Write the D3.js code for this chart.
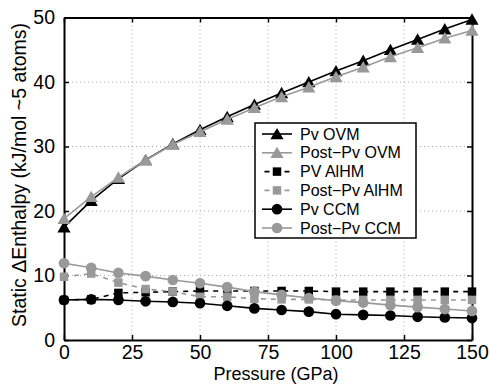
<!DOCTYPE html>
<html lang="en">
  <head>
    <meta charset="utf-8" />
    <title>Static Enthalpy</title>
    <style>
      body { margin: 0; background: #fff; }
      svg text { font-family: "Liberation Sans", Arial, sans-serif; }
    </style>
  </head>
  <body>
    <div id="graph-display"></div>
    <script src="https://d3js.org/d3.v7.min.js"></script>
    <script>
      // pressures (GPa)
      const pressure = [0, 10, 20, 30, 40, 50, 60, 70, 80, 90, 100, 110, 120, 130, 140, 150];
      const pvOVM = [17.5, 21.6, 25.0, 27.9, 30.4, 32.6, 34.6, 36.5, 38.3, 40.0, 41.7, 43.3, 45.0, 46.6, 48.2, 49.7];
      const postOVM = [18.8, 22.2, 25.2, 27.9, 30.3, 32.3, 34.2, 36.0, 37.7, 39.2, 40.8, 42.3, 43.9, 45.3, 46.8, 48.0];
      const pvAlHM = [6.2, 6.3, 7.3, 7.4, 7.5, 7.6, 7.6, 7.6, 7.6, 7.6, 7.5, 7.5, 7.5, 7.5, 7.5, 7.5];
      const postAlHM = [9.8, 10.3, 8.9, 7.9, 7.5, 6.7, 6.7, 6.4, 6.3, 6.3, 6.2, 6.2, 6.2, 6.2, 6.2, 6.2];
      const pvCCM = [6.2, 6.3, 6.2, 6.0, 5.9, 5.7, 5.3, 4.9, 4.65, 4.4, 4.0, 3.9, 3.8, 3.6, 3.5, 3.4];
      const postCCM = [11.9, 11.2, 10.4, 9.9, 9.3, 8.8, 8.2, 7.5, 7.0, 6.5, 6.1, 5.8, 5.4, 5.1, 4.8, 4.5];
      const xTicks = [0, 25, 50, 75, 100, 125, 150];
      const yTicks = [0, 10, 20, 30, 40, 50];

      const series = [
        { name: "Pv OVM", values: pvOVM, color: "#000", dash: null, shape: "tri" },
        { name: "Post\u2212Pv OVM", values: postOVM, color: "#999", dash: null, shape: "tri" },
        { name: "PV AlHM", values: pvAlHM, color: "#000", dash: "5,5", shape: "sq" },
        { name: "Post\u2212Pv AlHM", values: postAlHM, color: "#999", dash: "5,5", shape: "sq" },
        { name: "Pv CCM", values: pvCCM, color: "#000", dash: null, shape: "circ" },
        { name: "Post\u2212Pv CCM", values: postCCM, color: "#999", dash: null, shape: "circ" }
      ];

      const width = 490, height = 384;
      const pLeft = 64, pRight = 472, pTop = 17.5, pBottom = 340;

      const xScale = d3.scaleLinear().domain([0, 150]).range([pLeft, pRight]);
      const yScale = d3.scaleLinear().domain([0, 50]).range([pBottom, pTop]);

      const svg = d3.select("#graph-display").append("svg")
        .attr("width", width).attr("height", height);

      // grid
      svg.append("g").selectAll("line")
        .data(xTicks.slice(1, -1)).enter().append("line")
        .attr("x1", d => xScale(d)).attr("x2", d => xScale(d))
        .attr("y1", pTop).attr("y2", pBottom)
        .attr("stroke", "#aaa").attr("stroke-dasharray", "1,3");
      svg.append("g").selectAll("line")
        .data(yTicks.slice(1, -1)).enter().append("line")
        .attr("y1", d => yScale(d)).attr("y2", d => yScale(d))
        .attr("x1", pLeft).attr("x2", pRight)
        .attr("stroke", "#aaa").attr("stroke-dasharray", "1,3");

      // axes (ticks inside)
      const xAxis = svg.append("g").attr("transform", `translate(0,${pBottom})`)
        .call(d3.axisBottom(xScale).tickValues(xTicks).tickSizeInner(-5).tickSizeOuter(0).tickPadding(5));
      const yAxis = svg.append("g").attr("transform", `translate(${pLeft},0)`)
        .call(d3.axisLeft(yScale).tickValues(yTicks).tickSizeInner(-5).tickSizeOuter(0).tickPadding(9));
      svg.append("g").attr("transform", `translate(0,${pTop})`)
        .call(d3.axisTop(xScale).tickValues(xTicks).tickSizeInner(-5).tickSizeOuter(0).tickFormat(""));
      svg.append("g").attr("transform", `translate(${pRight},0)`)
        .call(d3.axisRight(yScale).tickValues(yTicks).tickSizeInner(-5).tickSizeOuter(0).tickFormat(""));
      svg.selectAll(".domain").attr("stroke", "#000").attr("stroke-width", 2);
      svg.selectAll(".tick line").attr("stroke", "#000").attr("stroke-width", 1.5);
      svg.selectAll(".tick text").attr("font-size", 19.5).attr("fill", "#000")
        .attr("font-family", "Liberation Sans, Arial, sans-serif");

      const line = d3.line().x((d, i) => xScale(pressure[i])).y(d => yScale(d));

      const tri = d3.symbol().type(d3.symbolTriangle).size(75);
      const sq = d3.symbol().type(d3.symbolSquare).size(72);
      const circ = d3.symbol().type(d3.symbolCircle).size(90);
      const shapes = { tri: tri, sq: sq, circ: circ };

      const plot = svg.append("g");
      series.forEach(s => {
        const g = plot.append("g");
        g.append("path").datum(s.values)
          .attr("d", line).attr("fill", "none")
          .attr("stroke", s.color).attr("stroke-width", 1.6)
          .attr("stroke-dasharray", s.dash);
        g.selectAll("path.m").data(s.values).enter().append("path")
          .attr("class", "m")
          .attr("transform", (d, i) => `translate(${xScale(pressure[i])},${yScale(d) + (s.shape === "tri" ? 1.5 : 0)})`)
          .attr("d", shapes[s.shape]())
          .attr("fill", s.color);
      });

      // legend
      const lg = svg.append("g").attr("transform", "translate(255,123)");
      lg.append("rect").attr("width", 161).attr("height", 115)
        .attr("fill", "#fff").attr("stroke", "#000").attr("stroke-width", 1.5);
      series.forEach((s, i) => {
        const yy = 11 + i * 18.8;
        lg.append("line").attr("x1", 7).attr("x2", 37).attr("y1", yy).attr("y2", yy)
          .attr("stroke", s.color).attr("stroke-width", 1.6)
          .attr("stroke-dasharray", s.dash ? "5,5" : null)
          .attr("stroke-dashoffset", s.dash ? -2.5 : null);
        lg.append("path").attr("transform", `translate(22,${yy + (s.shape === "tri" ? 1.5 : 0)})`)
          .attr("d", shapes[s.shape]()).attr("fill", s.color);
        lg.append("text").attr("x", 45).attr("y", yy + 5.5)
          .attr("font-size", 16).text(s.name);
      });

      // axis labels
      svg.append("text").attr("x", (pLeft + pRight) / 2 + 8).attr("y", 380)
        .attr("text-anchor", "middle").attr("font-size", 18).text("Pressure (GPa)");
      svg.append("text")
        .attr("transform", `translate(26,175) rotate(-90)`)
        .attr("text-anchor", "middle").attr("font-size", 19.5)
        .text("Static \u0394Enthalpy (kJ/mol ~5 atoms)");
    </script>
  </body>
</html>
